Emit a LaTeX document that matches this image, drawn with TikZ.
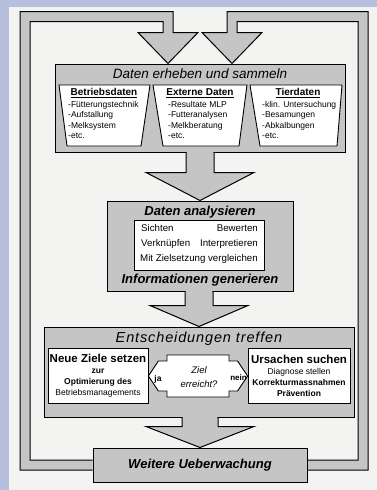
\documentclass[tikz,border=0pt]{standalone}
\usepackage{fontspec}
\setmainfont{Liberation Sans}
\usetikzlibrary{calc,backgrounds}
\definecolor{lavender}{RGB}{184,190,222}
\definecolor{paper}{RGB}{243,243,241}
\definecolor{boxgray}{RGB}{197,197,197}

\begin{document}
\begin{tikzpicture}[
x=1pt, y=-1pt,
graybox/.style={draw, line width=1pt, fill=boxgray, inner sep=0pt},
whitebox/.style={draw, line width=0.9pt, fill=white, inner sep=0pt},
band/.style={draw, line width=1pt, fill=boxgray, line join=miter},
headit/.style={font=\fontsize{13.5}{15}\selectfont\itshape, inner sep=0pt},
headbf/.style={font=\fontsize{13}{15}\selectfont\bfseries\itshape, inner sep=0pt},
ptitle/.style={font=\fontsize{10}{12}\selectfont\bfseries, inner sep=0pt},
pitems/.style={font=\fontsize{8.5}{10.5}\selectfont, align=left, inner sep=0pt, anchor=north west},
small/.style={font=\fontsize{9.7}{12}\selectfont, inner sep=0pt, text height=7pt, text depth=2pt},
decide/.style={whitebox, minimum height=55pt, align=center, font=\fontsize{8.5}{11}\selectfont}
]
\useasboundingbox (0,0) rectangle (377,490);

\node[graybox, minimum width=290pt, minimum height=88pt] (erheben) at (200,108) {};
\node[headit] (erhebentitel) at (200,74) {Daten erheben und sammeln};
\draw[whitebox] (59,85) -- (150,85) -- (141,146) -- (67,146) -- cycle;
\draw[whitebox] (153,85) -- (247,85) -- (239,146) -- (163,146) -- cycle;
\draw[whitebox] (250,85) -- (342,85) -- (337,146) -- (260,146) -- cycle;
\node[ptitle] (betrieb) at (104,93) {\underline{Betriebsdaten}};
\node[ptitle] (extern) at (200,93) {\underline{Externe Daten}};
\node[ptitle] (tier) at (298,93) {\underline{Tierdaten}};
\node[pitems] (betriebliste) at (68,101) {-Fütterungstechnik\\-Aufstallung\\-Melksystem\\-etc.};
\node[pitems] (externliste) at (168,101) {-Resultate MLP\\-Futteranalysen\\-Melkberatung\\-etc.};
\node[pitems] (tierliste) at (262,101) {-klin. Untersuchung\\-Besamungen\\-Abkalbungen\\-etc.};

\node[graybox, minimum width=186pt, minimum height=90pt] (analyse) at (200,246) {};
\node[headbf] (analysetitel) at (200,212) {Daten analysieren};
\node[whitebox, minimum width=130pt, minimum height=50pt] (aktion) at (199,245) {};
\node[small, anchor=west] (sichten) at (141,229) {Sichten};
\node[small, anchor=east] (bewerten) at (258,229) {Bewerten};
\node[small, anchor=west] (verknuepfen) at (141,244) {Verknüpfen};
\node[small, anchor=east] (interpretieren) at (258,244) {Interpretieren};
\node[small] (vergleichen) at (199,259) {Mit Zielsetzung vergleichen};
\node[headbf] (infotitel) at (200,280) {Informationen generieren};

\node[graybox, minimum width=310pt, minimum height=90pt] (entscheid) at (199,372) {};
\node[inner sep=0pt, font=\fontsize{14.5}{16}\selectfont\itshape\addfontfeatures{LetterSpace=6}] (entscheidtitel) at (199,339) {Entscheidungen treffen};
\node[decide, minimum width=100pt] (neue) at (98,376)
  {{\fontsize{11.5}{13}\selectfont\bfseries Neue Ziele setzen}\\{\bfseries zur}\\{\bfseries Optimierung des}\\Betriebsmanagements};
\node[decide, minimum width=102pt] (ursach) at (299,376)
  {{\fontsize{11.5}{13}\selectfont\bfseries Ursachen suchen}\\Diagnose stellen\\{\bfseries Korrekturmassnahmen}\\{\bfseries Prävention}};
\filldraw[whitebox] let \p1=(neue.east), \p2=(ursach.west), \p3=($(neue.east)!0.5!(ursach.west)$) in
  (\x1,\y3) -- ({\x1+10pt},{\y3+15pt}) -- ({\x3-31pt},{\y3+15pt}) -- ({\x3-31pt},{\y3+21pt})
  -- ({\x3+31pt},{\y3+21pt}) -- ({\x3+31pt},{\y3+15pt}) -- ({\x2-10pt},{\y3+15pt}) -- (\x2,\y3)
  -- ({\x2-10pt},{\y3-15pt}) -- ({\x3+31pt},{\y3-15pt}) -- ({\x3+31pt},{\y3-21pt})
  -- ({\x3-31pt},{\y3-21pt}) -- ({\x3-31pt},{\y3-15pt}) -- ({\x1+10pt},{\y3-15pt}) -- cycle;
\node[align=center, font=\fontsize{9.5}{14}\selectfont\itshape, inner sep=0pt] (ziel) at (199,377) {Ziel\\erreicht?};
\node[font=\fontsize{8.5}{10}\selectfont\bfseries, inner sep=0pt] (ja) at (158,379) {ja};
\node[font=\fontsize{8}{10}\selectfont\bfseries, inner sep=0pt] (nein) at (238.5,378) {nein};

\node[graybox, minimum width=214pt, minimum height=34pt, headbf] (weiter) at (200,465) {Weitere Ueberwachung};

\foreach \From/\To/\Body/\Head/\Len in {erheben/analyse/14/54/28, analyse/entscheid/14/49/21, entscheid/weiter/18/54/21}{
  \fill[boxgray] let \p1=(\From.south), \p2=(\To.north) in
    ({\x2-\Body*1pt+0.6pt},{\y1-1pt}) rectangle ({\x2+\Body*1pt-0.6pt},{\y1+1.5pt});
  \filldraw[band] let \p1=(\From.south), \p2=(\To.north) in
    ({\x2-\Body*1pt},\y1) -- ({\x2-\Body*1pt},{\y2+\Len*1pt}) -- ({\x2-\Head*1pt},{\y2+\Len*1pt}) -- (\x2,\y2)
    -- ({\x2+\Head*1pt},{\y2+\Len*1pt}) -- ({\x2+\Body*1pt},{\y2+\Len*1pt}) -- ({\x2+\Body*1pt},\y1);
}

\begin{scope}[on background layer]
\fill[lavender] (0,0) rectangle (377,490);
\fill[paper] (9,7) rectangle (377,490);
\filldraw[band] let \p1=(weiter.west), \p2=(erheben.north) in
  (\x1,{\y1+5pt}) -- (30pt,{\y1+5pt}) -- (30pt,{\y2+42pt}) -- ({\x2-37pt},{\y2+42pt}) -- ({\x2-37pt},{\y2+31pt})
  -- ({\x2-62pt},{\y2+31pt}) -- ({\x2-32pt},\y2) -- ({\x2-2pt},{\y2+31pt}) -- ({\x2-27pt},{\y2+31pt})
  -- ({\x2-27pt},{\y2+52pt}) -- (20pt,{\y2+52pt}) -- (20pt,{\y1-5pt}) -- (\x1,{\y1-5pt});
\filldraw[band] let \p1=(weiter.east), \p2=(erheben.north) in
  (\x1,{\y1+5pt}) -- (358pt,{\y1+5pt}) -- (358pt,{\y2+42pt}) -- ({\x2+37pt},{\y2+42pt}) -- ({\x2+37pt},{\y2+31pt})
  -- ({\x2+62pt},{\y2+31pt}) -- ({\x2+32pt},\y2) -- ({\x2+2pt},{\y2+31pt}) -- ({\x2+27pt},{\y2+31pt})
  -- ({\x2+27pt},{\y2+52pt}) -- (368pt,{\y2+52pt}) -- (368pt,{\y1-5pt}) -- (\x1,{\y1-5pt});
\end{scope}
\end{tikzpicture}
\end{document}
